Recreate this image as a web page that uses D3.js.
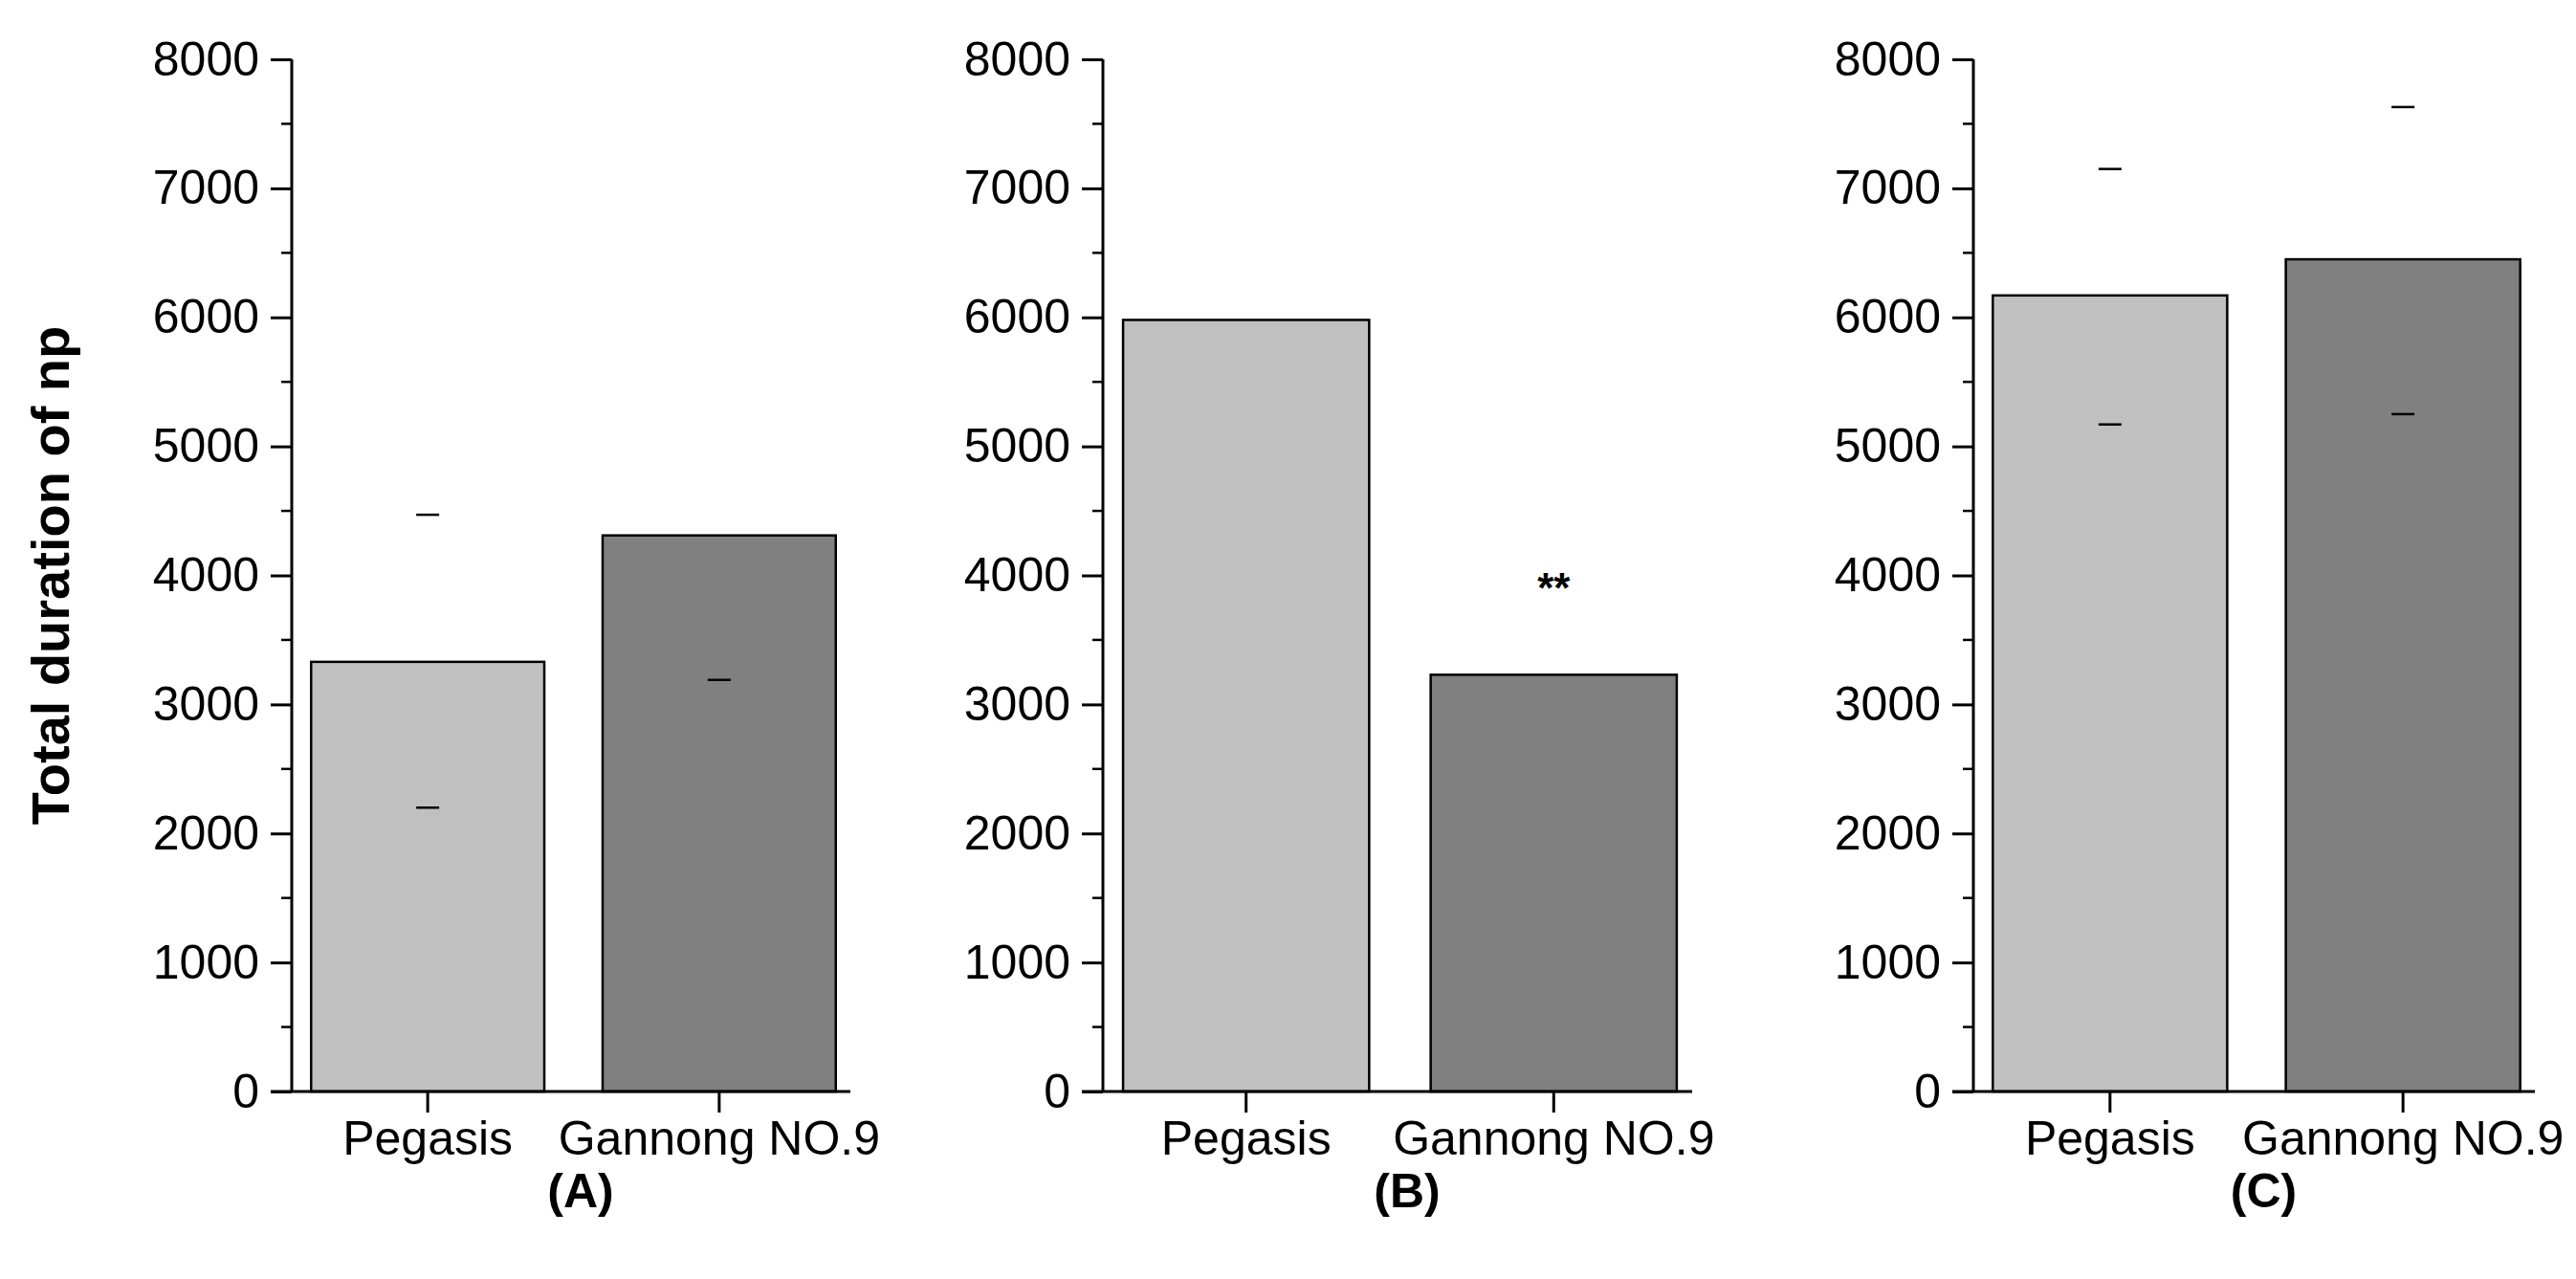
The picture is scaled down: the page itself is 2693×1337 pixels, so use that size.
<!DOCTYPE html>
<html><head><meta charset="utf-8">
<script src="https://cdn.jsdelivr.net/npm/d3@7"></script>
<style>body{margin:0;background:#fff}text{font-family:Arial,"Liberation Sans",sans-serif}</style>
</head><body>
<script>
var categories = ['Pegasis', 'Gannong NO.9'];
var panels = ['(A)', '(B)', '(C)'];
var values = [[3330, 4310], [5980, 3230], [6170, 6450]];
var upperMarks = [[4470, null], [null, null], [7150, 7630]];
var lowerMarks = [[2200, 3190], [null, null], [5170, 5250]];
var stars = [[null, null], [null, '**'], [null, null]];
var starY = [[null, null], [null, 3950], [null, null]];
var yTicks = [0, 1000, 2000, 3000, 4000, 5000, 6000, 7000, 8000];
var colors = ['#c0c0c0', '#808080'];

var W = 2693, H = 1337;
var svg = d3.select('body').append('svg').attr('width', W).attr('height', H);

var layout = [{x0: 305, x1: 889}, {x0: 1153, x1: 1769}, {x0: 2063, x1: 2650}];
var yTop = 62, yBot = 1141;
var y = d3.scaleLinear().domain([0, 8000]).range([yBot, yTop]);

layout.forEach(function(L, p) {
	var g = svg.append('g');
	var x = d3.scaleBand().domain(categories).range([L.x0 + 5, L.x1]).paddingInner(0.2).paddingOuter(0.05);

	// minor ticks
	d3.range(500, 8000, 1000).forEach(function(v) {
		g.append('line').attr('x1', L.x0 - 11).attr('x2', L.x0).attr('y1', y(v)).attr('y2', y(v))
			.attr('stroke', '#000').attr('stroke-width', 2.5);
	});

	var ya = d3.axisLeft(y).tickValues(yTicks).tickSize(22).tickPadding(12).tickFormat(d3.format('d'));
	g.append('g').attr('transform', 'translate(' + L.x0 + ',0)').call(ya)
		.call(s => s.select('.domain').attr('stroke-width', 3).attr('d', 'M0,' + yTop + 'V' + yBot))
		.call(s => s.selectAll('.tick line').attr('stroke-width', 3))
		.call(s => s.selectAll('.tick text').attr('font-size', 50).attr('fill', '#000'));

	g.selectAll('rect').data(values[p]).enter().append('rect')
		.attr('x', (d, i) => x(categories[i])).attr('width', x.bandwidth())
		.attr('y', d => y(d)).attr('height', d => yBot - y(d))
		.attr('fill', (d, i) => colors[i]).attr('stroke', '#000').attr('stroke-width', 2.5);

	var xa = d3.axisBottom(x).tickSize(22).tickPadding(8);
	g.append('g').attr('transform', 'translate(0,' + yBot + ')').call(xa)
		.call(s => s.select('.domain').attr('stroke-width', 3).attr('d', 'M' + (L.x0 - 22) + ',0H' + L.x1))
		.call(s => s.selectAll('.tick line').attr('stroke-width', 3))
		.call(s => s.selectAll('.tick text').attr('font-size', 50).attr('fill', '#000'));

	[upperMarks[p], lowerMarks[p]].forEach(function(arr) {
		arr.forEach(function(v, i) {
			if (v == null) return;
			var cx = x(categories[i]) + x.bandwidth() / 2;
			g.append('line').attr('x1', cx - 12).attr('x2', cx + 12).attr('y1', y(v)).attr('y2', y(v))
				.attr('stroke', '#000').attr('stroke-width', 2.5);
		});
	});

	stars[p].forEach(function(s, i) {
		if (!s) return;
		g.append('text').attr('x', x(categories[i]) + x.bandwidth() / 2).attr('y', y(starY[p][i]) + 22)
			.attr('text-anchor', 'middle').attr('font-size', 44).attr('font-weight', 'bold').text(s);
	});

	g.append('text').attr('x', (L.x0 + L.x1) / 2 + 10).attr('y', 1262).attr('text-anchor', 'middle')
		.attr('font-size', 50).attr('font-weight', 'bold').text(panels[p]);
});

svg.append('text').attr('transform', 'translate(72,' + ((yTop + yBot) / 2) + ') rotate(-90)')
	.attr('text-anchor', 'middle').attr('font-size', 56).attr('font-weight', 'bold').text('Total duration of np');
</script>
</body></html>
